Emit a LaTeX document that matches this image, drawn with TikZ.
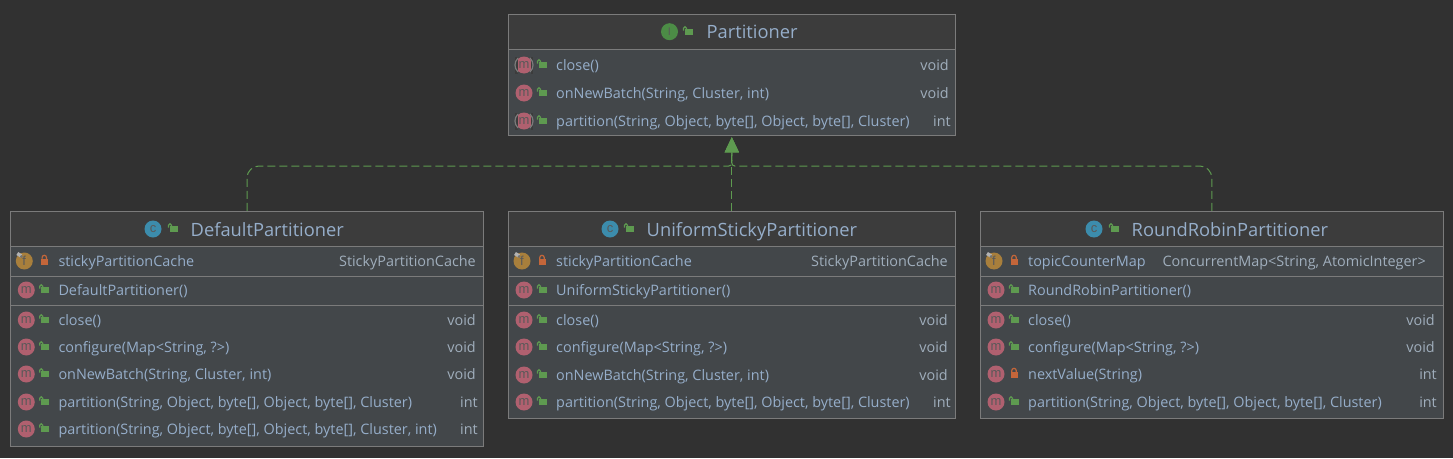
\documentclass[tikz,border=0pt]{standalone}
\usepackage{fontspec}
\setmainfont{Open Sans}
\newfontfamily\iconfont{Liberation Sans}
\usetikzlibrary{arrows.meta}
\definecolor{bgcol}{HTML}{313131}
\definecolor{headcol}{HTML}{3C3C3C}
\definecolor{bodycol}{HTML}{43474A}
\definecolor{framecol}{HTML}{7B7B7B}
\definecolor{textcol}{HTML}{96AECA}
\definecolor{typecol}{HTML}{A0AEBC}
\definecolor{greencol}{HTML}{5E9A50}
\definecolor{orangecol}{HTML}{C4663A}
\definecolor{mcol}{HTML}{B0606F}
\definecolor{fcol}{HTML}{A87F3C}
\definecolor{ccol}{HTML}{3C8CAC}
\definecolor{icol}{HTML}{4C8C46}
\tikzset{
	classbox/.style={draw=framecol, line width=1pt, inner sep=0pt},
	headbox/.style={classbox, fill=headcol},
	rowbox/.style={classbox, fill=bodycol},
	titletext/.style={anchor=base west, inner sep=0pt, text=textcol, font=\fontsize{18.3}{20}\selectfont},
	nametext/.style={anchor=base west, inner sep=0pt, text=textcol, font=\fontsize{14.4}{16}\selectfont},
	typetext/.style={anchor=base east, inner sep=0pt, text=typecol, font=\fontsize{14.4}{16}\selectfont},
	roundicon/.style={circle, minimum size=17pt, inner sep=0pt, text=black!65, font=\iconfont\fontsize{13}{13}\selectfont},
	realizes/.style={draw=greencol, line width=1pt, dash pattern=on 8pt off 4pt, -{Triangle[width=14pt,length=15pt]}, shorten >=1.5pt},
	openlock/.pic={
		\fill[greencol] (-3.5,-2.7) rectangle (4.5,3.3);
		\draw[greencol, line width=1.2pt] (-1.5,-2.5) -- (-1.5,-3.8) arc (0:-180:1.5 and 1.5) -- (-4.5,-1.5);
	},
	shutlock/.pic={
		\fill[orangecol] (-3.5,-2) rectangle (3.5,4);
		\draw[orangecol, line width=1.2pt] (-2.2,-2) -- (-2.2,-3.5) arc (180:0:2.2 and -2.2) -- (2.2,-2);
	},
	abstractmark/.pic={
		\fill[headcol] (-9,-8.5) rectangle (-6.5,8.5);
		\fill[headcol] (6.5,-8.5) rectangle (9,8.5);
		\draw[framecol, line width=1.2pt] (-6,-7) .. controls (-10,-3) and (-10,3) .. (-6,7);
		\draw[framecol, line width=1.2pt] (6,-7) .. controls (10,-3) and (10,3) .. (6,7);
	},
	pinmark/.pic={
		\draw[black!30, line width=3.5pt] (-7,-7.5) -- (-3,-5);
		\fill[black!55] (-3,-4.5) circle (1.5pt);
	},
}
% one method line: name, icon x, y, right end, text, type
\newcommand{\methodrow}[6]{
	\node[roundicon, fill=mcol] (#1icon) at (#2,#3) {m};
	\pic at (#2+18,#3) {openlock};
	\node[nametext] (#1name) at (#2+32,#3+5.5) {#5};
	\node[typetext] (#1type) at (#4,#3+5.5) {#6};
}
% one field line, the icon sits a little further left
\newcommand{\fieldrow}[6]{
	\node[roundicon, fill=fcol] (#1icon) at (#2-2,#3) {f};
	\pic at (#2-2,#3) {pinmark};
	\pic at (#2+18,#3) {shutlock};
	\node[nametext] (#1name) at (#2+32,#3+5.5) {#5};
	\node[typetext] (#1type) at (#4,#3+5.5) {#6};
}
\begin{document}
\begin{tikzpicture}[x=1pt,y=-1pt]
	\useasboundingbox (0,0) rectangle (1453,458);
	\fill[bgcol] (0,0) rectangle (1453,458);

	% interface
	\node[headbox, minimum width=447, minimum height=35] (PartitionerHead) at (731.8,31.8) {};
	\node[rowbox, minimum width=447, minimum height=86] (PartitionerBody) at (731.8,92.3) {};
	\node[roundicon, fill=icol, font=\iconfont\fontsize{11}{11}\selectfont] (PartitionerIcon) at (669.5,31.7) {I};
	\pic at (688,32) {openlock};
	\node[titletext] (PartitionerTitle) at (706.5,38.7) {Partitioner};
	\foreach \y/\n/\t/\r in {65/pa/{close()}/void, 93/pb/{onNewBatch(String, Cluster, int)}/void, 121/pc/{partition(String, Object, byte[], Object, byte[], Cluster)}/int}{
			\methodrow{\n}{524}{\y}{\ifnum\y=121 951\else 949\fi}{\t}{\r}
		}
	\pic at (524,65) {abstractmark};
	\pic at (524,121) {abstractmark};

	% DefaultPartitioner
	\node[headbox, minimum width=473, minimum height=35] (DefaultHead) at (247,228.8) {};
	\node[rowbox, minimum width=473, minimum height=30] (DefaultField) at (247,261.2) {};
	\node[rowbox, minimum width=473, minimum height=29] (DefaultCtor) at (247,290.7) {};
	\node[rowbox, minimum width=473, minimum height=141] (DefaultMethods) at (247,375.5) {};
	\node[roundicon, fill=ccol] (DefaultIcon) at (153,229) {c};
	\pic at (173,229) {openlock};
	\node[titletext] (DefaultTitle) at (190.5,236) {DefaultPartitioner};
	\fieldrow{df}{26.3}{261}{476}{stickyPartitionCache}{StickyPartitionCache}
	\methodrow{dc}{26.3}{290}{476}{DefaultPartitioner()}{}
	\foreach \y/\n/\t/\r/\e in {320/da/{close()}/void/476, 347/db/{configure(Map<String, ?>)}/void/476, 374/dd/{onNewBatch(String, Cluster, int)}/void/476, 402/de/{partition(String, Object, byte[], Object, byte[], Cluster)}/int/478, 429/dg/{partition(String, Object, byte[], Object, byte[], Cluster, int)}/int/478}{
			\methodrow{\n}{26.3}{\y}{\e}{\t}{\r}
		}

	% UniformStickyPartitioner
	\node[headbox, minimum width=447, minimum height=35] (UniformHead) at (731.8,228.8) {};
	\node[rowbox, minimum width=447, minimum height=30] (UniformField) at (731.8,261.2) {};
	\node[rowbox, minimum width=447, minimum height=29] (UniformCtor) at (731.8,290.7) {};
	\node[rowbox, minimum width=447, minimum height=113] (UniformMethods) at (731.8,361.5) {};
	\node[roundicon, fill=ccol] (UniformIcon) at (610,229) {c};
	\pic at (629,229) {openlock};
	\node[titletext] (UniformTitle) at (646.5,236) {UniformStickyPartitioner};
	\fieldrow{uf}{524}{261}{948}{stickyPartitionCache}{StickyPartitionCache}
	\methodrow{uc}{524}{290}{948}{UniformStickyPartitioner()}{}
	\foreach \y/\n/\t/\r/\e in {320/ua/{close()}/void/948, 347/ub/{configure(Map<String, ?>)}/void/948, 375/ud/{onNewBatch(String, Cluster, int)}/void/948, 402/ue/{partition(String, Object, byte[], Object, byte[], Cluster)}/int/951}{
			\methodrow{\n}{524}{\y}{\e}{\t}{\r}
		}

	% RoundRobinPartitioner
	\node[headbox, minimum width=462.5, minimum height=35] (RoundHead) at (1211.8,228.8) {};
	\node[rowbox, minimum width=462.5, minimum height=30] (RoundField) at (1211.8,261.2) {};
	\node[rowbox, minimum width=462.5, minimum height=29] (RoundCtor) at (1211.8,290.7) {};
	\node[rowbox, minimum width=462.5, minimum height=113] (RoundMethods) at (1211.8,361.5) {};
	\node[roundicon, fill=ccol] (RoundIcon) at (1094,229) {c};
	\pic at (1114,229) {openlock};
	\node[titletext] (RoundTitle) at (1131.5,236) {RoundRobinPartitioner};
	\fieldrow{rf}{996}{261}{1426}{topicCounterMap}{ConcurrentMap<String, AtomicInteger>}
	\methodrow{rc}{996}{290}{1435}{RoundRobinPartitioner()}{}
	\foreach \y/\n/\t/\r/\e in {320/ra/{close()}/void/1435, 347/rb/{configure(Map<String, ?>)}/void/1435, 402/re/{partition(String, Object, byte[], Object, byte[], Cluster)}/int/1437}{
			\methodrow{\n}{996}{\y}{\e}{\t}{\r}
		}
	\node[roundicon, fill=mcol] (rdicon) at (996,374) {m};
	\pic at (1014,374) {shutlock};
	\node[nametext] (rdname) at (1028,379.5) {nextValue(String)};
	\node[typetext] (rdtype) at (1437,379.5) {int};

	% realization arrows
	\coordinate (busjoin) at (731.8,166);
	\draw[realizes] (DefaultHead.north) [rounded corners=12pt] -- (DefaultHead.north |- busjoin) [rounded corners=3pt] -- (busjoin) -- (PartitionerBody.south);
	\draw[realizes] (RoundHead.north) [rounded corners=12pt] -- (RoundHead.north |- busjoin) [rounded corners=3pt] -- (busjoin) -- (PartitionerBody.south);
	\draw[realizes] (UniformHead.north) -- (PartitionerBody.south);
\end{tikzpicture}
\end{document}
